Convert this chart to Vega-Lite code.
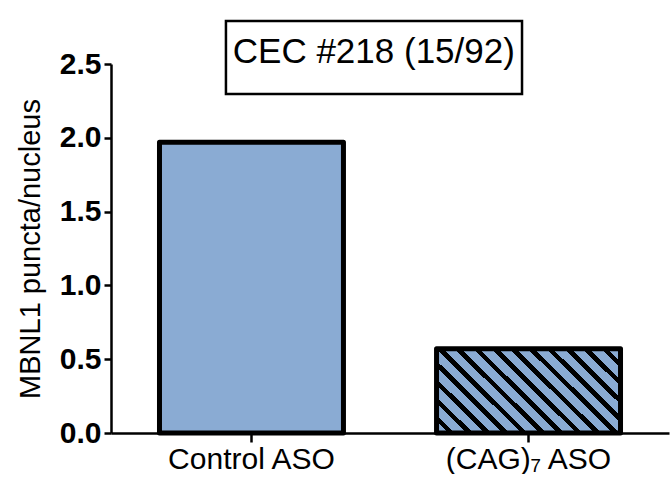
{
  "$schema": "https://vega.github.io/schema/vega-lite/v6.json",
  "background": "white",
  "padding": {"left": 16, "top": 19, "right": 5, "bottom": 0},
  "width": 558,
  "height": 369,
  "config": {
    "font": "Liberation Sans",
    "view": {"stroke": null},
    "axis": {
      "domainColor": "black",
      "domainWidth": 2.5,
      "tickColor": "black",
      "tickWidth": 2.5,
      "labelColor": "black",
      "titleColor": "black",
      "grid": false
    }
  },
  "resolve": {"scale": {"x": "independent", "y": "independent"}},
  "layer": [
    {
      "data": {
        "values": [
          {"group": "Control ASO", "puncta": 1.97},
          {"group": "(CAG)₇ ASO", "puncta": 0.57}
        ]
      },
      "mark": {"type": "bar", "stroke": "black", "strokeWidth": 5, "strokeJoin": "round"},
      "encoding": {
        "x": {
          "field": "group",
          "type": "nominal",
          "sort": null,
          "scale": {"paddingInner": 0.336, "paddingOuter": 0.175},
          "axis": {
            "title": null,
            "labelAngle": 0,
            "labelFontSize": 30,
            "labelLimit": 400,
            "labelPadding": 2,
            "tickSize": 9
          }
        },
        "y": {
          "field": "puncta",
          "type": "quantitative",
          "scale": {"domain": [0, 2.5], "nice": false},
          "axis": {
            "title": "MBNL1 puncta/nucleus",
            "titleFontSize": 29,
            "titleFontWeight": "normal",
            "titlePadding": 14,
            "values": [0, 0.5, 1, 1.5, 2, 2.5],
            "format": ".1f",
            "labelFontSize": 30,
            "labelFontWeight": "bold",
            "labelPadding": 3,
            "tickSize": 7
          }
        },
        "fill": {
          "condition": {"test": "datum.group === 'Control ASO'", "value": "#8aabd3"},
          "value": {
            "gradient": "linear",
            "x1": 0, "y1": 1, "x2": 1.205, "y2": 0.443,
            "stops": [
              {"offset": 0, "color": "#8aabd3"}, {"offset": 0.043, "color": "#8aabd3"},
              {"offset": 0.043, "color": "black"}, {"offset": 0.068, "color": "black"},
              {"offset": 0.068, "color": "#8aabd3"}, {"offset": 0.111, "color": "#8aabd3"},
              {"offset": 0.111, "color": "black"}, {"offset": 0.136, "color": "black"},
              {"offset": 0.136, "color": "#8aabd3"}, {"offset": 0.179, "color": "#8aabd3"},
              {"offset": 0.179, "color": "black"}, {"offset": 0.204, "color": "black"},
              {"offset": 0.204, "color": "#8aabd3"}, {"offset": 0.247, "color": "#8aabd3"},
              {"offset": 0.247, "color": "black"}, {"offset": 0.272, "color": "black"},
              {"offset": 0.272, "color": "#8aabd3"}, {"offset": 0.315, "color": "#8aabd3"},
              {"offset": 0.315, "color": "black"}, {"offset": 0.34, "color": "black"},
              {"offset": 0.34, "color": "#8aabd3"}, {"offset": 0.383, "color": "#8aabd3"},
              {"offset": 0.383, "color": "black"}, {"offset": 0.408, "color": "black"},
              {"offset": 0.408, "color": "#8aabd3"}, {"offset": 0.451, "color": "#8aabd3"},
              {"offset": 0.451, "color": "black"}, {"offset": 0.476, "color": "black"},
              {"offset": 0.476, "color": "#8aabd3"}, {"offset": 0.519, "color": "#8aabd3"},
              {"offset": 0.519, "color": "black"}, {"offset": 0.544, "color": "black"},
              {"offset": 0.544, "color": "#8aabd3"}, {"offset": 0.587, "color": "#8aabd3"},
              {"offset": 0.587, "color": "black"}, {"offset": 0.612, "color": "black"},
              {"offset": 0.612, "color": "#8aabd3"}, {"offset": 0.655, "color": "#8aabd3"},
              {"offset": 0.655, "color": "black"}, {"offset": 0.68, "color": "black"},
              {"offset": 0.68, "color": "#8aabd3"}, {"offset": 0.723, "color": "#8aabd3"},
              {"offset": 0.723, "color": "black"}, {"offset": 0.748, "color": "black"},
              {"offset": 0.748, "color": "#8aabd3"}, {"offset": 0.791, "color": "#8aabd3"},
              {"offset": 0.791, "color": "black"}, {"offset": 0.816, "color": "black"},
              {"offset": 0.816, "color": "#8aabd3"}, {"offset": 0.859, "color": "#8aabd3"},
              {"offset": 0.859, "color": "black"}, {"offset": 0.884, "color": "black"},
              {"offset": 0.884, "color": "#8aabd3"}, {"offset": 0.927, "color": "#8aabd3"},
              {"offset": 0.927, "color": "black"}, {"offset": 0.952, "color": "black"},
              {"offset": 0.952, "color": "#8aabd3"}, {"offset": 0.995, "color": "#8aabd3"},
              {"offset": 0.995, "color": "black"}, {"offset": 1, "color": "black"}
            ]
          }
        }
      }
    },
    {
      "data": {"values": [{"label": "CEC #218 (15/92)"}]},
      "layer": [
        {
          "mark": {"type": "rect", "fill": "white", "stroke": "black", "strokeWidth": 2.5},
          "encoding": {
            "x": {"datum": 0.206, "type": "quantitative", "scale": {"domain": [0, 1]}, "axis": null},
            "x2": {"datum": 0.7366},
            "y": {"datum": 2.791, "type": "quantitative", "scale": {"domain": [0, 2.5], "nice": false}, "axis": null},
            "y2": {"datum": 2.297}
          }
        },
        {
          "mark": {"type": "text", "font": "Liberation Sans", "fontSize": 35, "color": "black", "align": "center", "baseline": "middle"},
          "encoding": {
            "x": {"datum": 0.471, "type": "quantitative", "scale": {"domain": [0, 1]}, "axis": null},
            "y": {"datum": 2.581, "type": "quantitative", "scale": {"domain": [0, 2.5], "nice": false}, "axis": null},
            "text": {"field": "label", "type": "nominal"}
          }
        }
      ]
    }
  ]
}
